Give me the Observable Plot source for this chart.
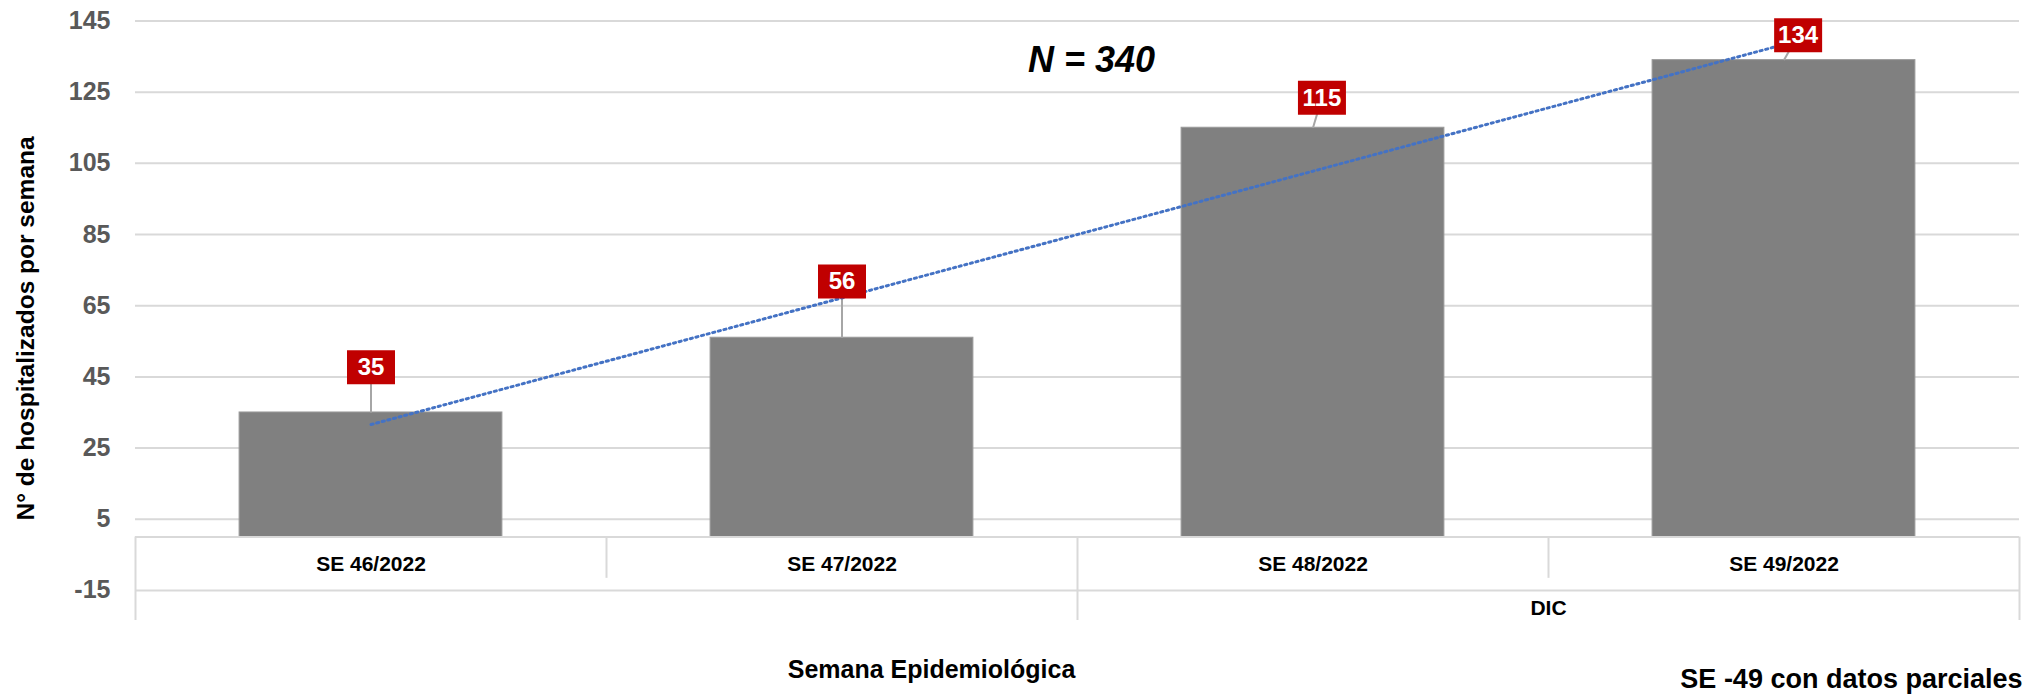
<!DOCTYPE html>
<html>
<head>
<meta charset="utf-8">
<script src="https://cdn.jsdelivr.net/npm/d3@7"></script>
<script src="https://cdn.jsdelivr.net/npm/@observablehq/plot@0.6"></script>
<style>
  html, body { margin: 0; padding: 0; background: #fff; }
  #chart svg { display: block; font-family: "Liberation Sans", Arial, sans-serif; }
</style>
</head>
<body>
<div id="chart"></div>
<script>
// ---- data ----
const weeks = ["SE 46/2022", "SE 47/2022", "SE 48/2022", "SE 49/2022"];
const hospitalized = [35, 56, 115, 134];
const monthOfWeek = ["", "", "DIC", "DIC"];
const yTicks = [-15, 5, 25, 45, 65, 85, 105, 125, 145];
const yTitle = "N° de hospitalizados por semana";
const xTitle = "Semana Epidemiológica";
const note = "SE -49 con datos parciales";

// ---- layout (label nudges in scale units: [x, y]) ----
const labelShift = [[0, 12.7], [0, 15.8], [0.019, 8.4], [0.03, 7.0]];

const rows = weeks.map((w, k) => ({i: k + 1, week: w, value: hospitalized[k], month: monthOfWeek[k]}));
const monthGroups = d3.groups(rows, d => d.month).map(([m, rs]) => ({
  month: m,
  lo: d3.min(rs, r => r.i) - 0.5,
  hi: d3.max(rs, r => r.i) + 0.5,
  mid: d3.mean(rs, r => r.i)
}));
const weekEdges = rows.map(r => r.i - 0.5).concat([rows[rows.length - 1].i + 0.5]);
const monthEdges = Array.from(new Set(monthGroups.flatMap(g => [g.lo, g.hi])));
const innerWeekEdges = weekEdges.filter(e => !monthEdges.includes(e));
const total = d3.sum(hospitalized);

const grid = "#d9d9d9";
const boxSymbol = {draw(ctx) { ctx.moveTo(-24, -17); ctx.lineTo(24, -17); ctx.lineTo(24, 17); ctx.lineTo(-24, 17); ctx.closePath(); }};

const lx = d => d.i + labelShift[d.i - 1][0];
const ly = d => d.value + labelShift[d.i - 1][1];

const chart = Plot.plot({
  width: 2023,
  height: 695,
  marginLeft: 135,
  marginRight: 4,
  marginTop: 0,
  marginBottom: 75,
  style: {fontFamily: '"Liberation Sans", Arial, sans-serif', background: "#fff", overflow: "visible"},
  x: {type: "linear", domain: [0.5, 4.5], axis: null},
  y: {domain: [-23.45, 150.75], axis: null},
  marks: [
    Plot.gridY(yTicks, {stroke: grid, strokeOpacity: 1, strokeWidth: 2}),
    Plot.axisY({ticks: yTicks, tickSize: 0, tickPadding: 25, tickFormat: d => String(d),
      fontSize: 25, fontWeight: "bold", color: "#595959", label: null}),
    Plot.rectY(rows, {x1: d => d.i - 0.279, x2: d => d.i + 0.279, y: "value", fill: "#808080", stroke: "#9a9a9a", strokeWidth: 1}),
    // category table
    Plot.ruleY([0], {stroke: grid, strokeWidth: 2}),
    Plot.ruleX(monthEdges, {y1: 0, y2: -23.45, stroke: grid, strokeWidth: 2}),
    Plot.ruleX(innerWeekEdges, {y1: 0, y2: -11.6, stroke: grid, strokeWidth: 2}),
    Plot.text(rows, {x: "i", y: -7.7, text: "week", fontSize: 21, fontWeight: "bold", fill: "#000"}),
    Plot.text(monthGroups, {x: "mid", y: -19.9, text: "month", fontSize: 21, fontWeight: "bold", fill: "#000"}),
    // leader lines
    Plot.link(rows, {x1: "i", y1: "value", x2: lx, y2: ly, stroke: "#a6a6a6", strokeWidth: 2}),
    // trend line
    Plot.linearRegressionY(rows, {x: "i", y: "value", ci: 0, stroke: "#4472C4", strokeWidth: 3, strokeDasharray: "2.2 3.6"}),
    // value labels
    Plot.dot(rows, {x: lx, y: ly, symbol: boxSymbol, fill: "#C00000", stroke: "none"}),
    Plot.text(rows, {x: lx, y: ly, text: d => String(d.value), fill: "#fff", fontSize: 24, fontWeight: "bold"}),
    // annotations
    Plot.text([`N = ${total}`], {frameAnchor: "top", lineAnchor: "middle", dx: 14, dy: 60, fontSize: 36, fontWeight: "bold", fontStyle: "italic", fill: "#000"}),
    Plot.text([yTitle], {x: 0.267, y: 58.6, rotate: -90, lineAnchor: "middle", fontSize: 24.5, fontWeight: "bold", fill: "#000"}),
    Plot.text([xTitle], {frameAnchor: "bottom", lineAnchor: "middle", dx: -146, dy: 49, fontSize: 25, fontWeight: "bold", fill: "#000"}),
    Plot.text([note], {frameAnchor: "bottom-right", lineAnchor: "middle", textAnchor: "end", dx: 3, dy: 59, fontSize: 27, fontWeight: "bold", fill: "#000"})
  ]
});
document.getElementById("chart").appendChild(chart);
</script>
</body>
</html>
